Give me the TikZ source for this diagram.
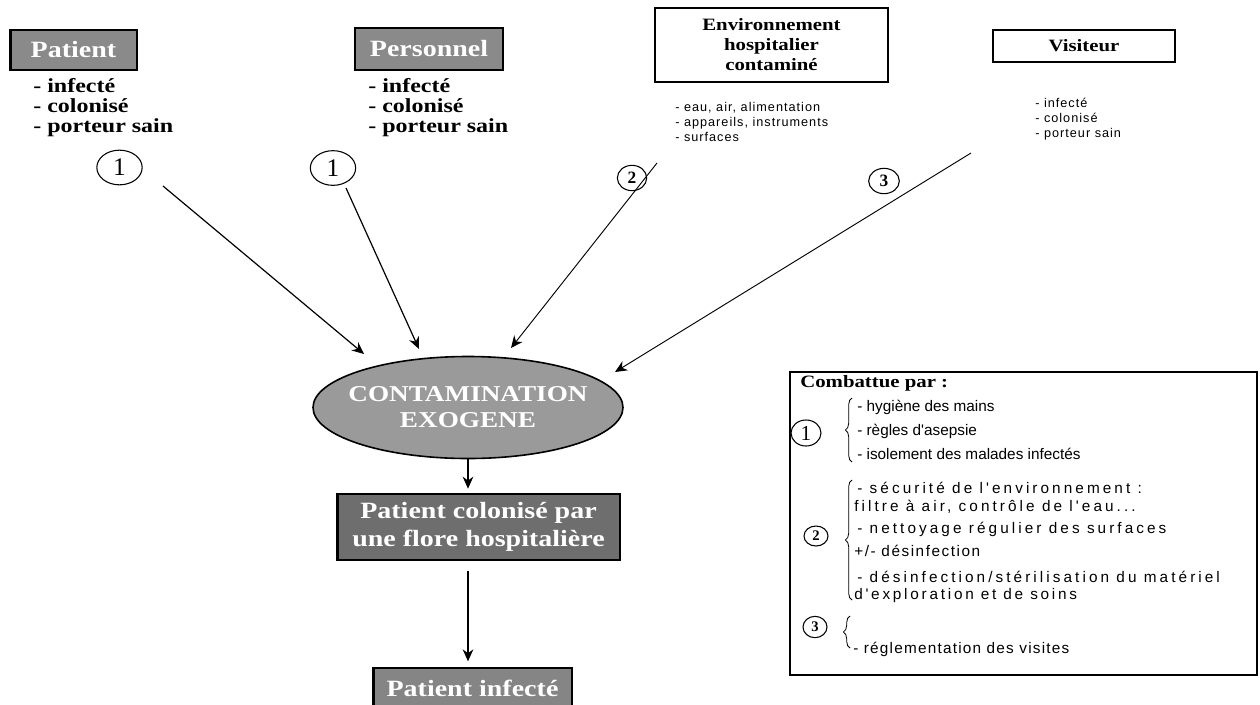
\documentclass[tikz,border=0pt]{standalone}
\usepackage{fontspec}
\setmainfont{Liberation Serif}
\newfontfamily\hfont[FakeStretch=1.2]{Liberation Serif}
\newfontfamily\lfont{Liberation Sans}
\usetikzlibrary{arrows.meta,shapes.geometric,decorations.pathreplacing}
\definecolor{gA}{HTML}{8A8A8A}
\definecolor{gB}{HTML}{9A9A9A}
\definecolor{gC}{HTML}{6E6E6E}
\definecolor{gD}{HTML}{858585}
\newcommand\lsp[2]{{\addfontfeature{LetterSpace=#1}#2}}
\begin{document}
\begin{tikzpicture}[x=0.75pt,y=-0.75pt,
  darkbox/.style={draw=black,line width=2pt,text=white,font=\hfont\bfseries\fontsize{17.5}{21}\selectfont,inner sep=0pt,align=center},
  whitebox/.style={draw=black,line width=1.1pt,fill=white,font=\hfont\bfseries\fontsize{13}{15}\selectfont,inner sep=0pt,align=center},
  biglist/.style={font=\hfont\bfseries\fontsize{15}{15}\selectfont,align=left,inner sep=0pt,anchor=west},
  smalllist/.style={font=\lfont\addfontfeature{LetterSpace=8}\fontsize{9.5}{11.25}\selectfont,align=left,inner sep=0pt,anchor=west},
  num/.style={ellipse,draw,line width=0.8pt,inner sep=0pt},
  arr/.style={-{Stealth[length=9pt,width=8pt]},line width=0.9pt},
  legtxt/.style={font=\lfont\fontsize{11.5}{13}\selectfont,anchor=west,inner sep=0pt},
  brc/.style={decorate,decoration={brace,amplitude=5pt},line width=0.6pt}
]
\useasboundingbox (0,0) rectangle (1260,704);
\fill[white] (0,0) rectangle (1260,704);
\clip (0,0) rectangle (1260,704);

% top sources
\node[darkbox,fill=gA,minimum width=95pt,minimum height=30pt] (pat) at (73.5,50) {Patient};
\node[darkbox,fill=gA,minimum width=111pt,minimum height=31.5pt] (pers) at (429,49) {Personnel};
\node[whitebox,minimum width=175pt,minimum height=55.5pt] (env) at (771.5,45) {Environnement\\hospitalier\\contaminé};
\node[whitebox,minimum width=136.5pt,minimum height=24pt] (vis) at (1084,46) {Visiteur};

\node[biglist] (patl) at (33,108) {- infecté\\- colonisé\\- porteur sain};
\node[biglist] (persl) at (368,108) {- infecté\\- colonisé\\- porteur sain};
\node[smalllist] (envl) at (675,122) {- eau, air, alimentation\\- appareils, instruments\\- surfaces};
\node[smalllist] (visl) at (1035,119) {- infecté\\- colonisé\\- porteur sain};

% numbered circles
\node[num,minimum width=34pt,minimum height=26pt,font=\fontsize{19}{19}\selectfont] (c1a) at (119.5,167.5) {1};
\node[num,minimum width=34pt,minimum height=26pt,font=\fontsize{19}{19}\selectfont] (c1b) at (333,168) {1};
\node[num,minimum width=22pt,minimum height=19pt,font=\bfseries\fontsize{13}{13}\selectfont] (c2) at (632,178) {2};
\node[num,minimum width=23pt,minimum height=19pt,font=\bfseries\fontsize{13}{13}\selectfont] (c3) at (884,181) {3};

% central ellipse
\node[ellipse,draw,line width=1.2pt,fill=gB,text=white,font=\hfont\bfseries\fontsize{17}{19.5}\selectfont,minimum width=232.5pt,minimum height=76.5pt,inner xsep=-60pt,inner ysep=-20pt,align=center] (ell) at (468,407.5) {CONTAMINATION\\EXOGENE};

% arrows into ellipse
\coordinate (s1) at (163,186); \coordinate (e1) at (364,354);
\coordinate (s2) at (346,188); \coordinate (e2) at (419,349);
\coordinate (s3) at (657,163); \coordinate (e3) at (511,348);
\coordinate (s4) at (971,153); \coordinate (e4) at (615,372);
\draw[arr] (s1) -- (e1);
\draw[arr] (s2) -- (e2);
\draw[arr,line width=0.7pt] (s3) -- (e3);
\draw[arr,line width=0.7pt] (s4) -- (e4);

% chain below
\node[darkbox,fill=gC,minimum width=212pt,minimum height=49.5pt] (col) at (478.5,527) {Patient colonisé par\\une flore hospitalière};
\node[darkbox,fill=gD,minimum width=149pt,minimum height=30pt] (inf) at (472.5,688) {Patient infecté};
\draw[arr,shorten >=3pt] (ell.south) -- (ell.south |- col.north);
\draw[arr,shorten <=7pt,shorten >=4pt] (col.south -| ell.south) -- (inf.north -| ell.south);

% legend
\node[draw,line width=0.9pt,minimum width=350.25pt,minimum height=227.25pt,inner sep=0pt] (leg) at (1023.5,523.5) {};
\node[font=\hfont\bfseries\fontsize{13}{13}\selectfont,anchor=west,inner sep=0pt] (comb) at (800,383) {Combattue par :};

\node[num,minimum width=22.5pt,minimum height=19.5pt,font=\fontsize{16}{16}\selectfont] (lc1) at (806,433) {1};
\draw[brc] (852,462) -- (852,398);
\node[legtxt] (h1) at (857,407) {- hygiène des mains};
\node[legtxt] (h2) at (857,431) {- règles d'asepsie};
\node[legtxt] (h3) at (857,454) {- isolement des malades infectés};

\node[num,minimum width=18pt,minimum height=15pt,font=\bfseries\fontsize{11}{11}\selectfont] (lc2) at (816,536) {2};
\draw[brc] (852,600) -- (852,480);
\node[legtxt] (h4) at (857,488) {\lsp{20}{- sécurité de l'environnement :}};
\node[legtxt] (h5) at (854,507) {\lsp{20}{filtre à air, contrôle de l'eau...}};
\node[legtxt] (h6) at (857,529) {\lsp{20}{- nettoyage régulier des surfaces}};
\node[legtxt] (h7) at (854,551) {\lsp{10}{+/- désinfection}};
\node[legtxt] (h8) at (857,577) {\lsp{20}{- désinfection/stérilisation du matériel}};
\node[legtxt] (h9) at (854,596) {\lsp{18}{d'exploration et de soins}};

\node[num,minimum width=18pt,minimum height=16pt,font=\bfseries\fontsize{11}{11}\selectfont] (lc3) at (815,627) {3};
\draw[brc] (850,648) -- (850,616);
\node[legtxt] (h10) at (853,649) {\lsp{8}{- réglementation des visites}};
\end{tikzpicture}
\end{document}
